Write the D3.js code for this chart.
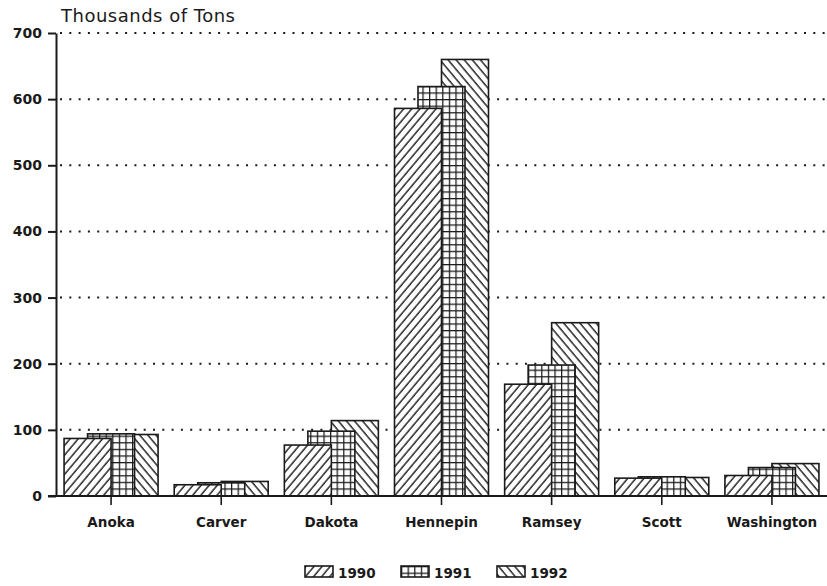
<!DOCTYPE html>
<html>
<head>
<meta charset="utf-8">
<script src="https://cdn.jsdelivr.net/npm/d3@7/dist/d3.min.js"></script>
<style>
  html, body { margin: 0; padding: 0; background: #fff; }
  svg { display: block; }
  text { font-family: "DejaVu Sans", sans-serif; fill: #1a1a1a; }
</style>
</head>
<body>
<svg id="chart" width="827" height="586"></svg>
<script>
// Counties and tonnage (thousands of tons) by year
const counties = ["Anoka", "Carver", "Dakota", "Hennepin", "Ramsey", "Scott", "Washington"];
const years = ["1990", "1991", "1992"];
const values1990 = [87, 17, 77, 586, 169, 27, 31];
const values1991 = [94, 20, 98, 619, 198, 29, 43];
const values1992 = [93, 22, 114, 660, 262, 28, 49];
const yTicks = [0, 100, 200, 300, 400, 500, 600, 700];
const yTitle = "Thousands of Tons";

const seriesValues = { "1990": values1990, "1991": values1991, "1992": values1992 };

const svg = d3.select("#chart");
const ink = "#1a1a1a";

const x = d3.scaleBand().domain(counties).range([56, 827]).paddingInner(0).paddingOuter(0);
const y = d3.scaleLinear().domain([0, 700]).range([496, 33]);
// offset of each year's bar relative to the county centre; bars overlap
const barW = 47;
const xo = d3.scalePoint().domain(years).range([-barW, 0]);

// hatch fills
const defs = svg.append("defs");
function hatch(id, angle) {
  const p = defs.append("pattern").attr("id", id)
    .attr("patternUnits", "userSpaceOnUse")
    .attr("width", 6.2).attr("height", 10)
    .attr("patternTransform", `rotate(${angle})`);
  p.append("rect").attr("width", 6.2).attr("height", 10).attr("fill", "#fff");
  p.append("line").attr("x1", 1).attr("x2", 1).attr("y1", 0).attr("y2", 10)
    .attr("stroke", ink).attr("stroke-width", 1.4);
}
hatch("pat1990", 40);
hatch("pat1992", -40);
const g = defs.append("pattern").attr("id", "pat1991")
  .attr("patternUnits", "userSpaceOnUse").attr("width", 6.6).attr("height", 6.6);
g.append("rect").attr("width", 6.6).attr("height", 6.6).attr("fill", "#fff");
g.append("line").attr("x1", 0.6).attr("x2", 0.6).attr("y1", 0).attr("y2", 6.6).attr("stroke", ink).attr("stroke-width", 1.3);
g.append("line").attr("x1", 0).attr("x2", 6.6).attr("y1", 0.6).attr("y2", 0.6).attr("stroke", ink).attr("stroke-width", 1.3);

// dotted gridlines
svg.append("g").selectAll("line").data(yTicks.filter(d => d > 0)).join("line")
  .attr("x1", 60).attr("x2", 827)
  .attr("y1", d => y(d)).attr("y2", d => y(d))
  .attr("stroke", ink).attr("stroke-width", 2)
  .attr("stroke-dasharray", "2 7.3");

// bars: later years drawn first so earlier years sit in front
const bars = svg.append("g");
years.slice().reverse().forEach(yr => {
  bars.append("g").selectAll("rect").data(counties).join("rect")
    .attr("x", (c) => x(c) + x.bandwidth() / 2 + xo(yr))
    .attr("width", barW)
    .attr("y", (c, i) => y(seriesValues[yr][i]))
    .attr("height", (c, i) => y(0) - y(seriesValues[yr][i]))
    .attr("fill", `url(#pat${yr})`)
    .attr("stroke", ink).attr("stroke-width", 1.6);
});

// y axis
const yAxis = svg.append("g").attr("transform", "translate(56,0)")
  .call(d3.axisLeft(y).tickValues(yTicks).tickSize(8).tickPadding(6).tickSizeOuter(0));
yAxis.select(".domain").attr("stroke", ink).attr("stroke-width", 2);
yAxis.selectAll(".tick line").attr("stroke", ink).attr("stroke-width", 2);
yAxis.selectAll(".tick text").attr("font-size", 14).attr("font-weight", "bold")
  .attr("font-family", "DejaVu Sans").attr("fill", ink);

// x axis
const xAxis = svg.append("g").attr("transform", "translate(0,496)")
  .call(d3.axisBottom(x).tickSize(9).tickPadding(12).tickSizeOuter(0));
xAxis.select(".domain").attr("d", "M48,0H827").attr("stroke", ink).attr("stroke-width", 2);
xAxis.selectAll(".tick line").attr("stroke", ink).attr("stroke-width", 1.6);
xAxis.selectAll(".tick text").attr("font-size", 13.5).attr("font-weight", "bold")
  .attr("font-family", "DejaVu Sans").attr("fill", ink);

// axis title
svg.append("text").attr("x", 61).attr("y", 22)
  .attr("font-size", 18).attr("letter-spacing", 0.5)
  .text(yTitle);

// legend
const legendX = d3.scalePoint().domain(years).range([305, 497]);
const lg = svg.append("g").selectAll("g").data(years).join("g")
  .attr("transform", d => `translate(${legendX(d)},566)`);
lg.append("rect").attr("width", 28).attr("height", 11)
  .attr("fill", d => `url(#pat${d})`).attr("stroke", ink).attr("stroke-width", 1.6);
lg.append("text").attr("x", 33).attr("y", 11.5)
  .attr("font-size", 13.5).attr("font-weight", "bold")
  .text(d => d);
</script>
</body>
</html>
